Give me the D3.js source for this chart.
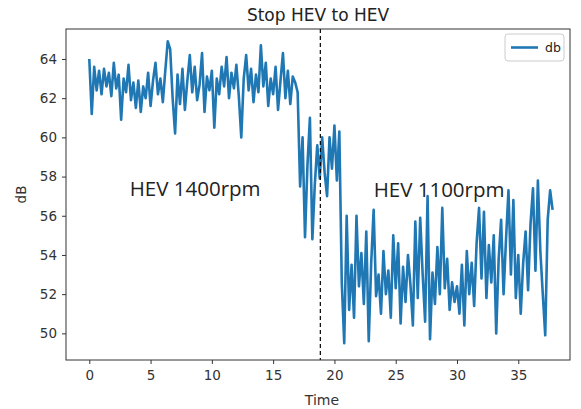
<!DOCTYPE html>
<html><head><meta charset="utf-8">
<script src="https://cdn.jsdelivr.net/npm/d3@7"></script>
<style>body{margin:0;background:#fff}svg{display:block}</style>
</head><body>
<svg id="c" width="581" height="409"></svg>
<script>
const title = "Stop HEV to HEV";
const xLabel = "Time";
const yLabel = "dB";
const seriesName = "db";
const xTicks = [0,5,10,15,20,25,30,35];
const yTicks = [50,52,54,56,58,60,62,64];
const step = 0.2;
const splitTime = 18.85;
const annotations = [
  {text:"HEV 1400rpm", t:3.3, v:57.0},
  {text:"HEV 1100rpm", t:23.2, v:56.95}
];
const dbValues = [
64.0,61.2,63.6,62.4,63.4,62.2,63.5,62.6,63.3,62.1,
63.8,62.5,63.2,60.9,63.0,62.3,63.7,61.9,62.8,61.5,
62.9,61.3,62.6,62.0,63.3,61.6,62.9,63.8,62.2,63.0,
61.8,63.4,64.9,64.5,62.0,60.2,63.2,61.7,63.5,61.4,
62.9,64.2,62.3,63.6,61.9,62.7,64.3,61.3,63.1,62.4,
63.4,60.5,63.0,62.2,63.6,62.6,64.1,62.0,63.3,62.5,
63.7,62.1,60.0,63.0,64.2,62.4,63.5,61.8,63.2,62.3,
64.7,62.6,63.8,61.6,63.0,62.2,63.6,61.4,62.9,64.3,
62.0,63.4,61.7,63.1,62.8,62.3,
57.5,60.0,54.9,58.6,61.0,54.8,57.6,59.6,57.9,60.0,
58.2,57.0,60.0,58.4,60.6,57.8,60.3,52.6,
49.5,56.0,51.2,53.5,50.8,56.0,52.4,54.1,51.5,55.2,
49.6,53.6,56.3,51.9,53.0,51.0,54.2,52.0,53.2,50.8,
55.0,52.3,54.6,50.5,53.4,51.6,54.0,52.5,50.4,55.7,
51.8,55.9,53.0,50.6,57.0,49.7,53.1,51.5,54.4,52.0,
56.4,52.3,53.8,51.2,52.6,51.6,52.4,51.0,53.5,50.4,
54.2,52.0,53.6,51.4,54.6,56.4,52.8,56.2,51.8,54.5,
52.6,55.0,50.0,53.8,55.8,52.0,54.8,57.3,53.0,56.8,
51.8,54.0,51.0,53.6,55.2,52.2,55.6,57.4,53.2,57.8,
54.2,52.0,49.9,55.8,57.3,56.3
];
const times = dbValues.map((_, i) => +(i * step).toFixed(1));

const svg = d3.select("#c");
const L = 66, R = 570, T = 29, B = 360;
const x = d3.scaleLinear().domain([-1.9, 39.22]).range([L, R]);
const y = d3.scaleLinear().domain([48.64, 65.53]).range([B, T]);
const tickColor = "#333";
const font = "DejaVu Sans, sans-serif";

const line = d3.line().x((d,i)=>x(times[i])).y(d=>y(d));
svg.append("defs").append("clipPath").attr("id","clip")
  .append("rect").attr("x",L).attr("y",T).attr("width",R-L).attr("height",B-T);
svg.append("path").datum(dbValues).attr("d", line)
  .attr("fill","none").attr("stroke","#1f77b4").attr("stroke-width",2.6)
  .attr("stroke-linejoin","round").attr("clip-path","url(#clip)");

svg.append("line").attr("x1",x(splitTime)).attr("x2",x(splitTime))
  .attr("y1",T).attr("y2",B).attr("stroke","#000").attr("stroke-width",1.2)
  .attr("stroke-dasharray","4,3");

const xa = svg.append("g").attr("transform",`translate(0,${B})`)
  .call(d3.axisBottom(x).tickValues(xTicks).tickSize(4).tickPadding(6).tickFormat(d3.format("d")));
const ya = svg.append("g").attr("transform",`translate(${L},0)`)
  .call(d3.axisLeft(y).tickValues(yTicks).tickSize(4).tickPadding(5).tickFormat(d3.format("d")));
[xa, ya].forEach(a => {
  a.select(".domain").remove();
  a.selectAll(".tick line").attr("stroke",tickColor);
  a.selectAll(".tick text").attr("fill",tickColor).style("font-family",font).style("font-size","13.5px");
});
svg.append("rect").attr("x",L).attr("y",T).attr("width",R-L).attr("height",B-T)
  .attr("fill","none").attr("stroke","#333").attr("stroke-width",1);

svg.append("text").attr("x",318).attr("y",21).attr("text-anchor","middle")
  .style("font-family",font).style("font-size","17px").attr("fill","#222").text(title);
svg.append("text").attr("x",322).attr("y",405).attr("text-anchor","middle")
  .style("font-family",font).style("font-size","14px").attr("fill","#333").text(xLabel);
svg.append("text").attr("transform",`translate(26,${(T+B)/2}) rotate(-90)`).attr("text-anchor","middle")
  .style("font-family",font).style("font-size","13.5px").attr("fill","#333").text(yLabel);

annotations.forEach(a => {
  svg.append("text").attr("x",x(a.t)).attr("y",y(a.v))
    .style("font-family","Open Sans, sans-serif").style("font-size","20.5px").attr("fill","#222")
    .text(a.text);
});

const lg = svg.append("g");
lg.append("rect").attr("x",505).attr("y",34).attr("width",59).attr("height",27).attr("rx",3)
  .attr("fill","#fff").attr("fill-opacity",0.8).attr("stroke","#ccc");
lg.append("line").attr("x1",511).attr("x2",538).attr("y1",47.5).attr("y2",47.5)
  .attr("stroke","#1f77b4").attr("stroke-width",2.6);
lg.append("text").attr("x",545).attr("y",52).style("font-family",font).style("font-size","12.5px")
  .attr("fill","#222").text(seriesName);
</script>
</body></html>
